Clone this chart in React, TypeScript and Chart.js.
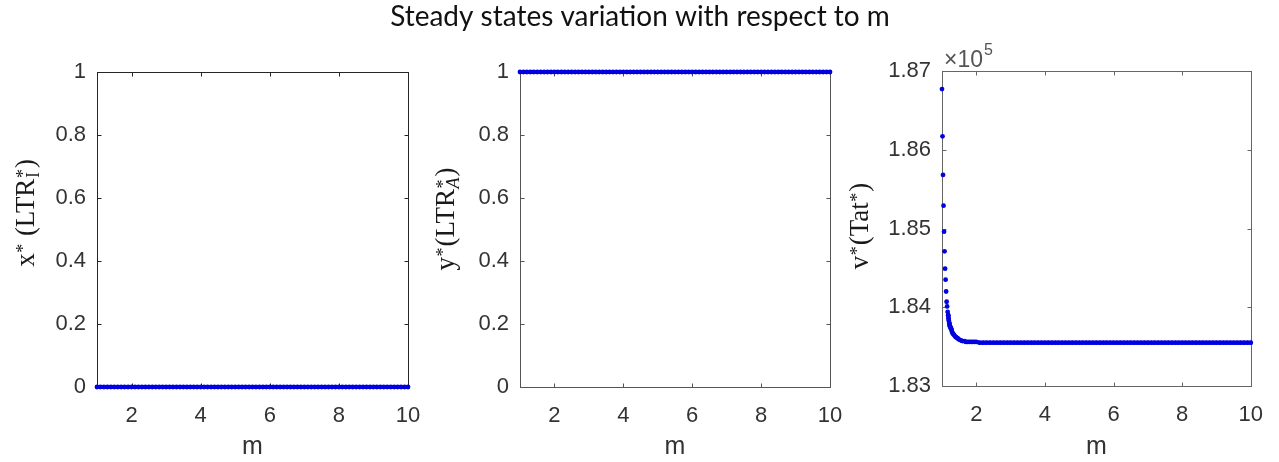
import React, { useEffect, useRef } from "react";
import { Chart, registerables } from "chart.js";

Chart.register(...registerables);

// ---------------- data ----------------
const mValues = [
  1.0, 1.1, 1.2, 1.3, 1.4, 1.5, 1.6, 1.7, 1.8, 1.9,
  2.0, 2.1, 2.2, 2.3, 2.4, 2.5, 2.6, 2.7, 2.8, 2.9,
  3.0, 3.1, 3.2, 3.3, 3.4, 3.5, 3.6, 3.7, 3.8, 3.9,
  4.0, 4.1, 4.2, 4.3, 4.4, 4.5, 4.6, 4.7, 4.8, 4.9,
  5.0, 5.1, 5.2, 5.3, 5.4, 5.5, 5.6, 5.7, 5.8, 5.9,
  6.0, 6.1, 6.2, 6.3, 6.4, 6.5, 6.6, 6.7, 6.8, 6.9,
  7.0, 7.1, 7.2, 7.3, 7.4, 7.5, 7.6, 7.7, 7.8, 7.9,
  8.0, 8.1, 8.2, 8.3, 8.4, 8.5, 8.6, 8.7, 8.8, 8.9,
  9.0, 9.1, 9.2, 9.3, 9.4, 9.5, 9.6, 9.7, 9.8, 9.9,
  10.0,
];

const xStar = [
  0, 0, 0, 0, 0, 0, 0, 0, 0, 0,
  0, 0, 0, 0, 0, 0, 0, 0, 0, 0,
  0, 0, 0, 0, 0, 0, 0, 0, 0, 0,
  0, 0, 0, 0, 0, 0, 0, 0, 0, 0,
  0, 0, 0, 0, 0, 0, 0, 0, 0, 0,
  0, 0, 0, 0, 0, 0, 0, 0, 0, 0,
  0, 0, 0, 0, 0, 0, 0, 0, 0, 0,
  0, 0, 0, 0, 0, 0, 0, 0, 0, 0,
  0, 0, 0, 0, 0, 0, 0, 0, 0, 0,
  0,
];

const yStar = [
  1, 1, 1, 1, 1, 1, 1, 1, 1, 1,
  1, 1, 1, 1, 1, 1, 1, 1, 1, 1,
  1, 1, 1, 1, 1, 1, 1, 1, 1, 1,
  1, 1, 1, 1, 1, 1, 1, 1, 1, 1,
  1, 1, 1, 1, 1, 1, 1, 1, 1, 1,
  1, 1, 1, 1, 1, 1, 1, 1, 1, 1,
  1, 1, 1, 1, 1, 1, 1, 1, 1, 1,
  1, 1, 1, 1, 1, 1, 1, 1, 1, 1,
  1, 1, 1, 1, 1, 1, 1, 1, 1, 1,
  1,
];

// steep start of v*(m): separate dots
const mVStart = [
  1.000, 1.015, 1.030, 1.045, 1.060, 1.075, 1.090, 1.105, 1.120, 1.135,
  1.150, 1.165,
];
const vStarStart = [
  186770, 186170, 185680, 185290, 184960, 184710, 184490, 184350, 184200, 184070,
  184010, 183940,
];

// rest of v*(m): dense dots that read as a thick line
const mVRest = [
  1.180, 1.19, 1.20, 1.21, 1.22, 1.23, 1.24, 1.25,
  1.27, 1.29, 1.31, 1.33, 1.35, 1.38, 1.41, 1.44, 1.47, 1.50,
  1.55, 1.60, 1.65, 1.70, 1.75, 1.80, 1.85, 1.90, 1.95, 2.00,
  2.1, 2.2, 2.3, 2.4, 2.5, 2.6, 2.7, 2.8, 2.9, 3.0,
  3.1, 3.2, 3.3, 3.4, 3.5, 3.6, 3.7, 3.8, 3.9, 4.0,
  4.1, 4.2, 4.3, 4.4, 4.5, 4.6, 4.7, 4.8, 4.9, 5.0,
  5.1, 5.2, 5.3, 5.4, 5.5, 5.6, 5.7, 5.8, 5.9, 6.0,
  6.1, 6.2, 6.3, 6.4, 6.5, 6.6, 6.7, 6.8, 6.9, 7.0,
  7.1, 7.2, 7.3, 7.4, 7.5, 7.6, 7.7, 7.8, 7.9, 8.0,
  8.1, 8.2, 8.3, 8.4, 8.5, 8.6, 8.7, 8.8, 8.9, 9.0,
  9.1, 9.2, 9.3, 9.4, 9.5, 9.6, 9.7, 9.8, 9.9, 10.0,
];
const vStarRest = [
  183900, 183860, 183830, 183800, 183780, 183760, 183750, 183740,
  183720, 183690, 183670, 183660, 183650, 183630, 183620, 183610, 183600, 183590,
  183580, 183570, 183570, 183560, 183560, 183560, 183560, 183560, 183560, 183560,
  183550, 183550, 183550, 183550, 183550, 183550, 183550, 183550, 183550, 183550,
  183550, 183550, 183550, 183550, 183550, 183550, 183550, 183550, 183550, 183550,
  183550, 183550, 183550, 183550, 183550, 183550, 183550, 183550, 183550, 183550,
  183550, 183550, 183550, 183550, 183550, 183550, 183550, 183550, 183550, 183550,
  183550, 183550, 183550, 183550, 183550, 183550, 183550, 183550, 183550, 183550,
  183550, 183550, 183550, 183550, 183550, 183550, 183550, 183550, 183550, 183550,
  183550, 183550, 183550, 183550, 183550, 183550, 183550, 183550, 183550, 183550,
  183550, 183550, 183550, 183550, 183550, 183550, 183550, 183550, 183550, 183550,
];

const mTicks = [2, 4, 6, 8, 10];
const unitTicks = [0, 0.2, 0.4, 0.6, 0.8, 1];
const vTicks = [183000, 184000, 185000, 186000, 187000];

const TITLE = "Steady states variation with respect to m";
const X_TITLE = "m";

// ---------------- styling ----------------
const W = 1279;
const H = 462;
const YW = 80;
const XH = 40;
const BLUE = "#0000e0";
const TICK_COLOR = "#333333";
const SANS = '"Liberation Sans", Arial, Helvetica, sans-serif';
const SERIF = '"Liberation Serif", "Times New Roman", serif';
const TITLE_FONT = 'Lato, "Open Sans", sans-serif';

type Seg = { t?: string; sup?: string; sub?: string; subItalic?: boolean };

function drawRichVertical(ctx: CanvasRenderingContext2D, segs: Seg[], baseX: number, centerY: number, size: number) {
  const small = Math.round(size * 0.68);
  const big = `${size}px ${SERIF}`;
  const sm = `${small}px ${SERIF}`;
  const smI = `italic ${small}px ${SERIF}`;
  const widths = segs.map((s) => {
    if (s.t) {
      ctx.font = big;
      return ctx.measureText(s.t).width;
    }
    let w = 0;
    if (s.sup) {
      ctx.font = sm;
      w = Math.max(w, ctx.measureText(s.sup).width);
    }
    if (s.sub) {
      ctx.font = s.subItalic ? smI : sm;
      w = Math.max(w, ctx.measureText(s.sub).width);
    }
    return w + 1.5;
  });
  const total = widths.reduce((a, b) => a + b, 0);
  ctx.save();
  ctx.translate(baseX, centerY);
  ctx.rotate(-Math.PI / 2);
  ctx.fillStyle = "#1a1a1a";
  ctx.textBaseline = "alphabetic";
  ctx.textAlign = "left";
  let x = -total / 2;
  segs.forEach((s, i) => {
    if (s.t) {
      ctx.font = big;
      ctx.fillText(s.t, x, 0);
    } else {
      if (s.sup) {
        ctx.font = sm;
        ctx.fillText(s.sup, x + 0.5, -size * 0.2);
      }
      if (s.sub) {
        ctx.font = s.subItalic ? smI : sm;
        ctx.fillText(s.sub, x + 0.5, size * 0.17);
      }
    }
    x += widths[i];
  });
  ctx.restore();
}

type Series = { xs: number[]; ys: number[]; line: boolean };

type Panel = {
  area: { l: number; t: number; r: number; b: number };
  series: Series[];
  yMin: number;
  yMax: number;
  yTicks: number[];
  fmt: (v: number) => string;
  frame: string;
  label: Seg[];
  labelX: number;
  labelY: number;
  showTitle?: boolean;
  exponent?: boolean;
};

const panels: Panel[] = [
  {
    area: { l: 97, t: 72, r: 408, b: 387 },
    series: [{ xs: mValues, ys: xStar, line: true }],
    yMin: 0,
    yMax: 1,
    yTicks: unitTicks,
    fmt: (v) => String(v),
    frame: "#262626",
    label: [{ t: "x" }, { sup: "*" }, { t: " (LTR" }, { sup: "*", sub: "I" }, { t: ")" }],
    labelX: 34,
    labelY: 213,
    showTitle: true,
  },
  {
    area: { l: 520, t: 72, r: 830, b: 387 },
    series: [{ xs: mValues, ys: yStar, line: true }],
    yMin: 0,
    yMax: 1,
    yTicks: unitTicks,
    fmt: (v) => String(v),
    frame: "#555555",
    label: [{ t: "y" }, { sup: "*" }, { t: "(LTR" }, { sup: "*", sub: "A", subItalic: true }, { t: ")" }],
    labelX: 454,
    labelY: 219,
  },
  {
    area: { l: 942, t: 71, r: 1253, b: 386 },
    series: [
      { xs: mVStart, ys: vStarStart, line: false },
      { xs: mVRest, ys: vStarRest, line: true },
    ],
    yMin: 183000,
    yMax: 187000,
    yTicks: vTicks,
    fmt: (v) => (v / 1e5).toFixed(2),
    frame: "#666666",
    label: [{ t: "v" }, { sup: "*" }, { t: "(Tat" }, { sup: "*" }, { t: ")" }],
    labelX: 868,
    labelY: 226,
    exponent: true,
  },
];

function panelPlugin(p: Panel) {
  return {
    id: "matlabPanel",
    beforeDatasetsDraw(chart: any) {
      const ctx: CanvasRenderingContext2D = chart.ctx;
      const a = chart.chartArea;
      const xs = chart.scales.x;
      const ys = chart.scales.y;
      ctx.save();
      ctx.strokeStyle = p.frame;
      ctx.lineWidth = 1;
      const L = Math.round(a.left) + 0.5;
      const R = Math.round(a.right) + 0.5;
      const T = Math.round(a.top) + 0.5;
      const B = Math.round(a.bottom) + 0.5;
      ctx.strokeRect(L, T, R - L, B - T);
      const tl = 4;
      ctx.beginPath();
      mTicks.forEach((v) => {
        const px = Math.round(xs.getPixelForValue(v)) + 0.5;
        ctx.moveTo(px, B);
        ctx.lineTo(px, B - tl);
        ctx.moveTo(px, T);
        ctx.lineTo(px, T + tl);
      });
      p.yTicks.forEach((v) => {
        const py = Math.round(ys.getPixelForValue(v)) + 0.5;
        ctx.moveTo(L, py);
        ctx.lineTo(L + tl, py);
        ctx.moveTo(R, py);
        ctx.lineTo(R - tl, py);
      });
      ctx.stroke();
      ctx.restore();
    },
    afterDraw(chart: any) {
      const ctx: CanvasRenderingContext2D = chart.ctx;
      const a = chart.chartArea;
      ctx.save();
      drawRichVertical(ctx, p.label, p.labelX, p.labelY, 27);
      ctx.font = `25px ${SANS}`;
      ctx.fillStyle = TICK_COLOR;
      ctx.textAlign = "center";
      ctx.textBaseline = "alphabetic";
      ctx.fillText(X_TITLE, (a.left + a.right) / 2, 454);
      if (p.exponent) {
        ctx.textAlign = "left";
        ctx.fillStyle = "#555555";
        ctx.font = `23px ${SANS}`;
        ctx.fillText("\u00d710", a.left + 2, 67);
        const w = ctx.measureText("\u00d710").width;
        ctx.font = `16px ${SANS}`;
        ctx.fillText("5", a.left + 2 + w + 1, 55);
      }
      if (p.showTitle) {
        ctx.fillStyle = "#111111";
        ctx.textAlign = "left";
        let size = 24;
        ctx.font = `${size}px ${TITLE_FONT}`;
        const w0 = ctx.measureText(TITLE).width;
        size = (size * 500) / w0;
        ctx.font = `${size}px ${TITLE_FONT}`;
        const w1 = ctx.measureText(TITLE).width;
        ctx.fillText(TITLE, 640 - w1 / 2, 26);
      }
      ctx.restore();
    },
  };
}

function makeConfig(p: Panel): any {
  const pad = {
    left: p.area.l - YW,
    right: W - p.area.r,
    top: p.area.t,
    bottom: H - p.area.b - XH,
  };
  return {
    type: "line",
    data: {
      datasets: p.series.map((s) => ({
        data: s.xs.map((x, i) => ({ x, y: s.ys[i] })),
        showLine: s.line,
        borderWidth: 4,
        borderColor: BLUE,
        backgroundColor: BLUE,
        fill: false,
        tension: 0,
        borderCapStyle: "round",
        borderJoinStyle: "round",
        pointRadius: 2.4,
        pointHoverRadius: 2.4,
        pointBorderWidth: 0,
        pointBackgroundColor: BLUE,
        clip: false,
      })),
    },
    options: {
      responsive: false,
      animation: false,
      events: [],
      layout: { padding: pad },
      plugins: {
        legend: { display: false },
        tooltip: { enabled: false },
        title: { display: false },
      },
      scales: {
        x: {
          type: "linear",
          position: "bottom",
          min: 1,
          max: 10,
          grid: { display: false, drawTicks: false },
          border: { display: false },
          ticks: {
            padding: 16,
            maxRotation: 0,
            autoSkip: false,
            color: TICK_COLOR,
            font: { family: SANS, size: 22 },
            callback: (v: number) => String(v),
          },
          afterBuildTicks: (s: any) => {
            s.ticks = mTicks.map((v) => ({ value: v }));
          },
          afterFit: (s: any) => {
            s.height = XH;
          },
        },
        y: {
          type: "linear",
          position: "left",
          min: p.yMin,
          max: p.yMax,
          grid: { display: false, drawTicks: false },
          border: { display: false },
          ticks: {
            padding: 11,
            autoSkip: false,
            color: TICK_COLOR,
            font: { family: SANS, size: 22 },
            callback: (v: number) => p.fmt(v),
          },
          afterBuildTicks: (s: any) => {
            s.ticks = p.yTicks.map((v) => ({ value: v }));
          },
          afterFit: (s: any) => {
            s.width = YW;
          },
        },
      },
    },
    plugins: [panelPlugin(p)],
  };
}

export default function App() {
  const r0 = useRef<HTMLCanvasElement>(null);
  const r1 = useRef<HTMLCanvasElement>(null);
  const r2 = useRef<HTMLCanvasElement>(null);
  useEffect(() => {
    const refs = [r0, r1, r2];
    const charts = panels.map((p, i) => new Chart(refs[i].current as HTMLCanvasElement, makeConfig(p)));
    return () => charts.forEach((c) => c.destroy());
  }, []);
  const cs: React.CSSProperties = { position: "absolute", left: 0, top: 0, width: W, height: H };
  return (
    <div style={{ position: "absolute", left: 0, top: 0, width: W, height: H, background: "#ffffff" }}>
      <canvas ref={r0} width={W} height={H} style={cs} />
      <canvas ref={r1} width={W} height={H} style={cs} />
      <canvas ref={r2} width={W} height={H} style={cs} />
    </div>
  );
}
